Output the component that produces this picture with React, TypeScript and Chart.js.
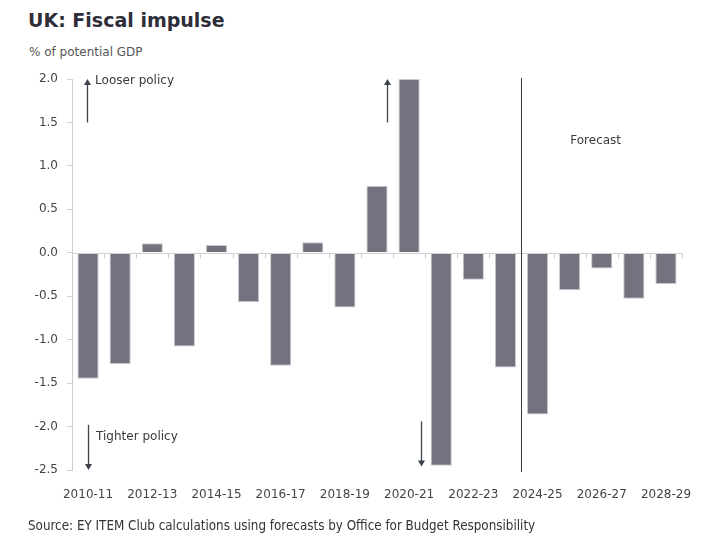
import React, { useEffect, useRef } from "react";
import { Chart, registerables } from "chart.js";

Chart.register(...registerables);

const categories = [
  "2010-11", "2011-12", "2012-13", "2013-14", "2014-15", "2015-16", "2016-17",
  "2017-18", "2018-19", "2019-20", "2020-21", "2021-22", "2022-23", "2023-24",
  "2024-25", "2025-26", "2026-27", "2027-28", "2028-29",
];
const fiscalImpulse = [
  -1.45, -1.28, 0.11, -1.08, 0.09, -0.57, -1.3, 0.12, -0.63, 0.77, 2.0, -2.45,
  -0.31, -1.32, -1.86, -0.43, -0.18, -0.53, -0.36,
];
const yMin = -2.5;
const yMax = 2.0;
const yStep = 0.5;
const forecastStartIndex = 14;

const titleText = "UK: Fiscal impulse";
const subtitleText = "% of potential GDP";
const sourceText =
  "Source: EY ITEM Club calculations using forecasts by Office for Budget Responsibility";
const looserText = "Looser policy";
const tighterText = "Tighter policy";
const forecastText = "Forecast";

const TICK_FONT = "'DejaVu Sans', Verdana, sans-serif";
const ARROW_COLOR = "#3d434d";

function drawArrow(ctx: CanvasRenderingContext2D, x: number, yFrom: number, yTo: number) {
  const dir = yTo < yFrom ? -1 : 1;
  ctx.save();
  ctx.strokeStyle = ARROW_COLOR;
  ctx.fillStyle = ARROW_COLOR;
  ctx.lineWidth = 1.3;
  ctx.beginPath();
  ctx.moveTo(x, yFrom);
  ctx.lineTo(x, yTo - dir * 4);
  ctx.stroke();
  ctx.beginPath();
  ctx.moveTo(x, yTo);
  ctx.lineTo(x - 3.5, yTo - dir * 6);
  ctx.lineTo(x + 3.5, yTo - dir * 6);
  ctx.closePath();
  ctx.fill();
  ctx.restore();
}

const overlayPlugin = {
  id: "fiscalOverlay",
  afterDatasetsDraw(chart: any) {
    const { ctx, chartArea, scales } = chart;
    const x = scales.x;
    const y = scales.y;
    const n = categories.length;
    const step = (chartArea.right - chartArea.left) / n;
    const y0 = Math.round(y.getPixelForValue(0)) + 0.5;

    ctx.save();
    ctx.strokeStyle = "#cfcfd4";
    ctx.lineWidth = 1;
    ctx.beginPath();
    ctx.moveTo(chartArea.left, y0);
    ctx.lineTo(chartArea.right, y0);
    for (let k = 0; k <= n; k++) {
      const px = Math.round(chartArea.left + k * step) + 0.5;
      ctx.moveTo(px, y0);
      ctx.lineTo(px, y0 + 5);
    }
    ctx.stroke();

    const fx =
      Math.round((x.getPixelForValue(forecastStartIndex - 1) + x.getPixelForValue(forecastStartIndex)) / 2) + 0.5;
    ctx.strokeStyle = "#33363d";
    ctx.beginPath();
    ctx.moveTo(fx, chartArea.top - 1);
    ctx.lineTo(fx, chartArea.bottom + 2);
    ctx.stroke();

    ctx.fillStyle = "#3a3a3a";
    ctx.font = "12px " + TICK_FONT;
    ctx.textBaseline = "middle";
    ctx.textAlign = "left";
    ctx.fillText(forecastText, x.getPixelForValue(15.02), y.getPixelForValue(1.29));
    ctx.fillText(looserText, x.getPixelForValue(0.22), y.getPixelForValue(1.98));
    ctx.fillText(tighterText, x.getPixelForValue(0.25), y.getPixelForValue(-2.12));
    ctx.restore();

    drawArrow(ctx, Math.round(x.getPixelForValue(-0.03)) + 0.5, y.getPixelForValue(1.5), y.getPixelForValue(2.0));
    drawArrow(ctx, Math.round(x.getPixelForValue(-0.0)) + 0.5, y.getPixelForValue(-1.98), y.getPixelForValue(-2.5));
    drawArrow(ctx, Math.round(x.getPixelForValue(9.31)) + 0.5, y.getPixelForValue(1.5), y.getPixelForValue(2.0));
    drawArrow(ctx, Math.round(x.getPixelForValue(10.37)) + 0.5, y.getPixelForValue(-1.94), y.getPixelForValue(-2.46));
  },
};

export default function App() {
  const canvasRef = useRef<HTMLCanvasElement | null>(null);

  useEffect(() => {
    document.body.style.margin = "0";
    const canvas = canvasRef.current;
    if (!canvas) return;
    const chart = new Chart(canvas, {
      type: "bar",
      data: {
        labels: categories,
        datasets: [
          {
            data: fiscalImpulse,
            backgroundColor: "#73737f",
            borderColor: "#c9c9d2",
            borderWidth: 1,
            categoryPercentage: 1,
            barPercentage: 0.66,
          },
        ],
      },
      options: {
        responsive: false,
        animation: false,
        devicePixelRatio: 1,
        layout: { padding: { left: 0, right: 37, top: 79, bottom: 0 } },
        plugins: {
          legend: { display: false },
          title: { display: false },
          tooltip: { enabled: false },
        },
        scales: {
          x: {
            grid: { display: false },
            border: { display: false },
            ticks: {
              autoSkip: false,
              maxRotation: 0,
              minRotation: 0,
              padding: 10,
              color: "#444",
              font: { family: TICK_FONT, size: 12 },
              callback: (_v: any, i: number) => (i % 2 === 0 ? categories[i] : ""),
            },
            afterFit: (scale: any) => {
              scale.height = 68;
            },
          },
          y: {
            min: yMin,
            max: yMax,
            grid: { drawOnChartArea: false, drawTicks: true, tickLength: 5, color: "#cfcfd4" },
            border: { display: true, color: "#cfcfd4" },
            ticks: {
              stepSize: yStep,
              padding: 9,
              color: "#444",
              font: { family: TICK_FONT, size: 12 },
              callback: (v: any) => Number(v).toFixed(1),
            },
            afterFit: (scale: any) => {
              scale.width = 72;
            },
          },
        },
      },
      plugins: [overlayPlugin],
    });
    return () => chart.destroy();
  }, []);

  return (
    <div style={{ position: "absolute", left: 0, top: 0, width: 719, height: 538, background: "#fff", overflow: "hidden" }}>
      <div
        style={{
          position: "absolute", left: 28, top: 7, fontFamily: TICK_FONT, fontWeight: "bold",
          fontSize: 19, lineHeight: "26px", color: "#2e2e38", whiteSpace: "nowrap",
        }}
      >
        {titleText}
      </div>
      <div
        style={{
          position: "absolute", left: 29, top: 43, fontFamily: TICK_FONT, fontSize: 12,
          lineHeight: "18px", color: "#555", whiteSpace: "nowrap",
        }}
      >
        {subtitleText}
      </div>
      <canvas ref={canvasRef} width={719} height={538} style={{ position: "absolute", left: 0, top: 0, width: 719, height: 538 }} />
      <div
        style={{
          position: "absolute", left: 28, top: 517, fontFamily: "'DejaVu Sans Condensed', " + TICK_FONT,
          fontSize: 13.3, lineHeight: "18px", color: "#333", whiteSpace: "nowrap",
        }}
      >
        {sourceText}
      </div>
    </div>
  );
}
